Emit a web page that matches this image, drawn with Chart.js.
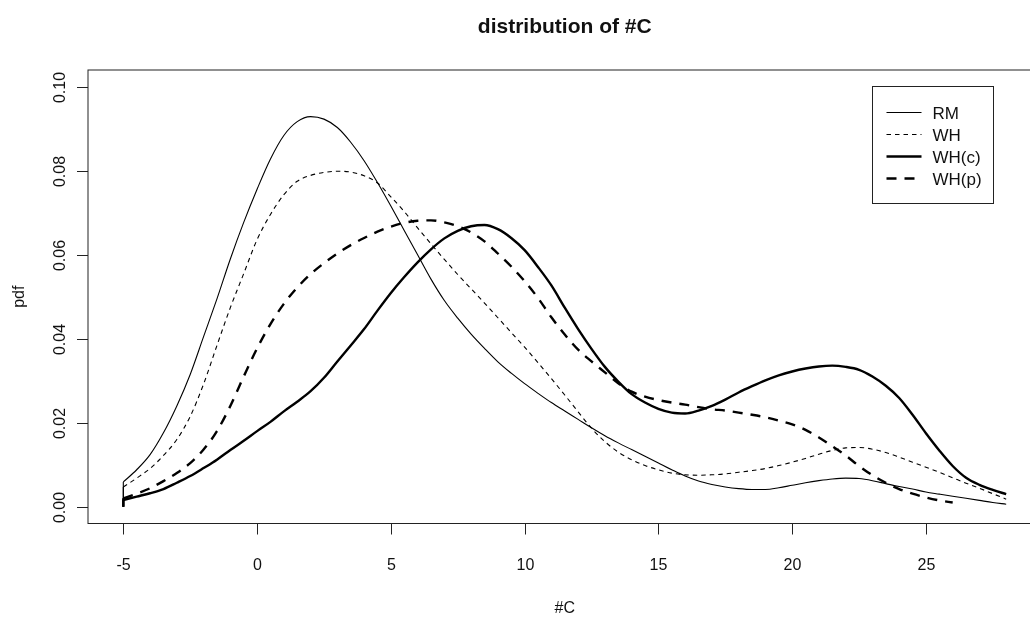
<!DOCTYPE html>
<html>
<head>
<meta charset="utf-8">
<script src="https://cdn.jsdelivr.net/npm/chart.js@4.4.1/dist/chart.umd.min.js"></script>
<style>
  html, body { margin: 0; padding: 0; background: #fff; overflow: hidden; width: 1030px; height: 617px; }
  #wrap { position: relative; width: 1080px; height: 617px; }
  canvas { display: block; }
</style>
</head>
<body>
<div id="wrap"><canvas id="c" width="1080" height="617"></canvas></div>
<script>
// ---- labels ----
const chartTitle = "distribution of #C";
const xTitle = "#C";
const yTitle = "pdf";
const xTicks = [-5, 0, 5, 10, 15, 20, 25];
const yTicks = [0, 0.02, 0.04, 0.06, 0.08, 0.10];
const yTickLabels = ["0.00", "0.02", "0.04", "0.06", "0.08", "0.10"];
const seriesNames = ["RM", "WH", "WH(c)", "WH(p)"];

// ---- evaluation grid for #C ----
const xGrid = [
  -5, -4.5, -4, -3.5, -3, -2.5, -2, -1.5, -1, -0.5,
  0, 0.5, 1, 1.5, 2, 2.5, 3, 3.5, 4, 4.5,
  5, 5.5, 6, 6.5, 7, 7.5, 8, 8.5, 9, 9.5,
  10, 10.5, 11, 11.5, 12, 12.5, 13, 13.5, 14, 14.5,
  15, 15.5, 16, 16.5, 17, 17.5, 18, 18.5, 19, 19.5,
  20, 20.5, 21, 21.5, 22, 22.5, 23, 23.5, 24, 24.5,
  25, 25.5, 26, 26.5, 27, 27.5, 28
];

// ---- density values ----
const rmPdf = [
  0.0059, 0.0088, 0.0124, 0.0176, 0.0240, 0.0315, 0.0405, 0.0495, 0.0590, 0.0677,
  0.0756, 0.0828, 0.0884, 0.0917, 0.0929, 0.0923, 0.0903, 0.0868, 0.0824, 0.0772,
  0.0716, 0.0658, 0.0600, 0.0542, 0.0491, 0.0449, 0.0411, 0.0377, 0.0345, 0.0318,
  0.0293, 0.0270, 0.0248, 0.0228, 0.0208, 0.0188, 0.0169, 0.0152, 0.0136, 0.0120,
  0.0104, 0.0088, 0.0073, 0.0061, 0.0053, 0.0047, 0.0043, 0.0041, 0.0041, 0.0045,
  0.0051, 0.0057, 0.0062, 0.0066, 0.0068, 0.0067, 0.0062, 0.0055, 0.0048, 0.0042,
  0.0035, 0.0030, 0.0025, 0.0020, 0.0015, 0.0010, 0.0006
];
const whPdf = [
  0.0047, 0.0068, 0.0091, 0.0122, 0.0160, 0.0215, 0.0292, 0.0384, 0.0474, 0.0555,
  0.0636, 0.0696, 0.0743, 0.0775, 0.0789, 0.0796, 0.0799, 0.0797, 0.0788, 0.0771,
  0.0738, 0.0703, 0.0664, 0.0626, 0.0589, 0.0553, 0.0519, 0.0485, 0.0450, 0.0415,
  0.0380, 0.0343, 0.0305, 0.0266, 0.0226, 0.0187, 0.0155, 0.0130, 0.0112, 0.0098,
  0.0088, 0.0080, 0.0076, 0.0075, 0.0076, 0.0078, 0.0082, 0.0086, 0.0091, 0.0098,
  0.0106, 0.0115, 0.0125, 0.0134, 0.0140, 0.0141, 0.0137, 0.0129, 0.0118, 0.0106,
  0.0094, 0.0082, 0.0069, 0.0056, 0.0044, 0.0031, 0.0018
];
const whcPdf = [
  0.0016, 0.0024, 0.0032, 0.0042, 0.0057, 0.0073, 0.0092, 0.0112, 0.0135, 0.0157,
  0.0180, 0.0202, 0.0227, 0.0250, 0.0275, 0.0307, 0.0346, 0.0384, 0.0423, 0.0467,
  0.0509, 0.0547, 0.0582, 0.0613, 0.0639, 0.0657, 0.0668, 0.0671, 0.0661, 0.0640,
  0.0611, 0.0571, 0.0527, 0.0474, 0.0423, 0.0376, 0.0333, 0.0298, 0.0268, 0.0248,
  0.0233, 0.0224, 0.0222, 0.0229, 0.0240, 0.0255, 0.0272, 0.0287, 0.0301, 0.0313,
  0.0322, 0.0329, 0.0334, 0.0336, 0.0333, 0.0326, 0.0310, 0.0288, 0.0259, 0.0219,
  0.0175, 0.0134, 0.0097, 0.0069, 0.0052, 0.0040, 0.0030
];
const whpPdf = [
  0.0020, 0.0031, 0.0044, 0.0061, 0.0080, 0.0104, 0.0136, 0.0180, 0.0240, 0.0310,
  0.0377, 0.0435, 0.0483, 0.0522, 0.0554, 0.0580, 0.0603, 0.0623, 0.0640, 0.0655,
  0.0667, 0.0676, 0.0681, 0.0682, 0.0677, 0.0668, 0.0653, 0.0632, 0.0603, 0.0572,
  0.0537, 0.0497, 0.0451, 0.0410, 0.0374, 0.0346, 0.0320, 0.0294, 0.0274, 0.0262,
  0.0254, 0.0248, 0.0243, 0.0237, 0.0232, 0.0229, 0.0224, 0.0219, 0.0213, 0.0205,
  0.0196, 0.0183, 0.0165, 0.0144, 0.0122, 0.0097, 0.0075, 0.0057, 0.0042, 0.0031,
  0.0022, 0.0015, 0.0010, null, null, null, null
];

// ---- line styles (R lty / lwd look-alikes) ----
const styles = [
  { width: 1.1, dash: [] },
  { width: 1.1, dash: [4.5, 4] },
  { width: 2.4, dash: [] },
  { width: 2.4, dash: [10, 8] }
];

const FONT = '"Liberation Sans", Arial, Helvetica, sans-serif';

function toPoints(vals) {
  const pts = [];
  xGrid.forEach((x, i) => { if (vals[i] !== null) pts.push({ x: x, y: vals[i] }); });
  return pts;
}

const allSeries = [rmPdf, whPdf, whcPdf, whpPdf];
const datasets = [];
allSeries.forEach((vals, k) => {
  datasets.push({
    label: seriesNames[k],
    data: toPoints(vals),
    borderColor: '#000',
    borderWidth: styles[k].width,
    borderDash: styles[k].dash,
    cubicInterpolationMode: 'monotone',
    pointRadius: 0,
    fill: false
  });
  // vertical rise at the left boundary of the support
  datasets.push({
    label: seriesNames[k] + ' edge',
    data: [{ x: xGrid[0], y: 0 }, { x: xGrid[0], y: vals[0] }],
    borderColor: '#000',
    borderWidth: styles[k].width,
    borderDash: [],
    tension: 0,
    pointRadius: 0,
    fill: false
  });
});

// frame, axes, titles and legend in base-graphics style
const baseGraphics = {
  id: 'baseGraphics',
  afterDraw(chart) {
    const ctx = chart.ctx;
    const a = chart.chartArea;
    const xs = chart.scales.x, ys = chart.scales.y;
    const cx = (a.left + a.right) / 2;
    const cy = (a.top + a.bottom) / 2;
    ctx.save();
    ctx.strokeStyle = '#222';
    ctx.fillStyle = '#111';
    ctx.lineWidth = 1;
    ctx.setLineDash([]);

    // plot frame
    ctx.strokeRect(a.left, a.top, a.right - a.left, a.bottom - a.top);

    // x axis ticks and labels
    ctx.font = '16px ' + FONT;
    ctx.textAlign = 'center';
    ctx.textBaseline = 'alphabetic';
    xTicks.forEach(v => {
      const px = Math.round(xs.getPixelForValue(v)) + 0.5;
      ctx.beginPath();
      ctx.moveTo(px, a.bottom);
      ctx.lineTo(px, a.bottom + 11);
      ctx.stroke();
      ctx.fillText(String(v), px, a.bottom + 46);
    });

    // y axis ticks and rotated labels
    yTicks.forEach((v, i) => {
      const py = Math.round(ys.getPixelForValue(v)) + 0.5;
      ctx.beginPath();
      ctx.moveTo(a.left, py);
      ctx.lineTo(a.left - 11, py);
      ctx.stroke();
      ctx.save();
      ctx.translate(a.left - 23, py);
      ctx.rotate(-Math.PI / 2);
      ctx.fillText(yTickLabels[i], 0, 0);
      ctx.restore();
    });

    // axis titles
    ctx.fillText(xTitle, cx, a.bottom + 89);
    ctx.save();
    ctx.translate(24, cy);
    ctx.rotate(-Math.PI / 2);
    ctx.fillText(yTitle, 0, 0);
    ctx.restore();

    // main title
    ctx.font = 'bold 21px ' + FONT;
    ctx.fillText(chartTitle, cx, 33);

    // legend anchored at (23, 0.10) in data units
    const lx = Math.round(xs.getPixelForValue(23)) + 0.5;
    const ly = Math.round(ys.getPixelForValue(0.10)) - 0.5;
    const lw = 121, lh = 117, rowH = 22;
    ctx.strokeRect(lx, ly, lw, lh);
    ctx.font = '17px ' + FONT;
    ctx.textAlign = 'left';
    seriesNames.forEach((name, k) => {
      const ry = ly + 26 + k * rowH;
      ctx.save();
      ctx.lineWidth = styles[k].width;
      ctx.setLineDash(styles[k].dash);
      ctx.strokeStyle = '#000';
      ctx.beginPath();
      ctx.moveTo(lx + 14, ry);
      ctx.lineTo(lx + 49, ry);
      ctx.stroke();
      ctx.restore();
      ctx.fillText(name, lx + 60, ry + 6);
    });
    ctx.restore();
  }
};

new Chart(document.getElementById('c'), {
  type: 'line',
  data: { datasets: datasets },
  options: {
    responsive: false,
    animation: false,
    devicePixelRatio: 1,
    layout: { padding: { left: 88, top: 70, right: 38.5, bottom: 93.5 } },
    plugins: {
      legend: { display: false },
      tooltip: { enabled: false },
      title: { display: false }
    },
    scales: {
      x: { type: 'linear', display: false, min: -6.32, max: 29.32 },
      y: { type: 'linear', display: false, min: -0.004, max: 0.104 }
    }
  },
  plugins: [baseGraphics]
});
</script>
</body>
</html>
